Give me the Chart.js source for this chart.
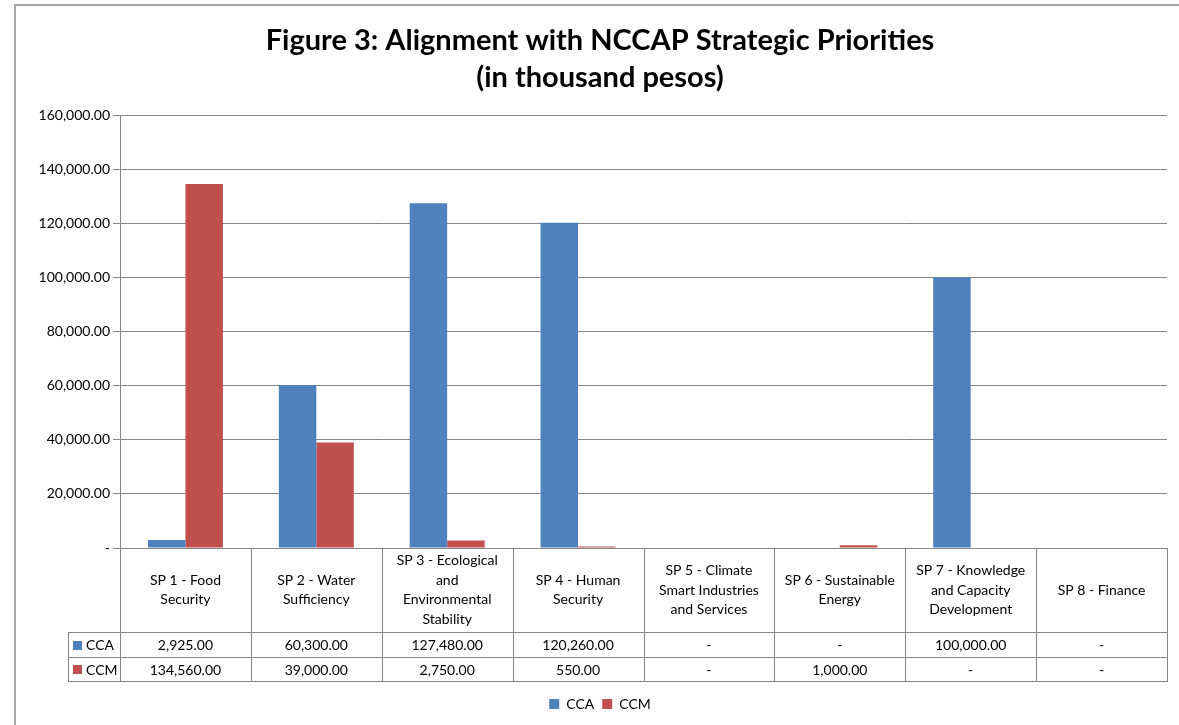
<!DOCTYPE html>
<html lang="en">
<head>
    <meta charset="UTF-8">
    <title>Figure 3: Alignment with NCCAP Strategic Priorities</title>
    <script src="https://cdn.jsdelivr.net/npm/chart.js"></script>
    <style>
        html, body {
            margin: 0;
            padding: 0;
            background: #ffffff;
            overflow: hidden;
        }
        #wrap {
            position: relative;
            width: 1200px;
            height: 725px;
        }
    </style>
</head>
<body>
    <div id="wrap">
        <canvas id="myChart"></canvas>
    </div>

    <script>
        // categories (header lines as they wrap in the data table)
        const categories = [
            ['SP 1 - Food', 'Security'],
            ['SP 2 - Water', 'Sufficiency'],
            ['SP 3 - Ecological', 'and', 'Environmental', 'Stability'],
            ['SP 4 - Human', 'Security'],
            ['SP 5 - Climate', 'Smart Industries', 'and Services'],
            ['SP 6 - Sustainable', 'Energy'],
            ['SP 7 - Knowledge', 'and Capacity', 'Development'],
            ['SP 8 - Finance']
        ];
        const ccaValues = [2925, 60300, 127480, 120260, 0, 0, 100000, 0];
        const ccmValues = [134560, 39000, 2750, 550, 0, 1000, 0, 0];
        const yTicks = [0, 20000, 40000, 60000, 80000, 100000, 120000, 140000, 160000];

        const FONT = 'Lato, Calibri, "Open Sans", sans-serif';
        const GRID = '#868686';

        function fmt(v) {
            if (!v) return '-';
            return v.toLocaleString('en-US', { minimumFractionDigits: 2, maximumFractionDigits: 2 });
        }

        // draws the data table under the plot plus the outer frame
        const tablePlugin = {
            id: 'dataTable',
            beforeDraw(chart) {
                const ctx = chart.ctx;
                ctx.save();
                ctx.strokeStyle = '#a6a6a6';
                ctx.lineWidth = 2;
                ctx.strokeRect(15, 5, 2000, 2000);
                ctx.restore();
            },
            afterDraw(chart) {
                const ctx = chart.ctx;
                const x = chart.scales.x;
                const area = chart.chartArea;
                const n = categories.length;
                const w = (x.right - x.left) / n;
                const top = area.bottom;
                const headBottom = top + 84;
                const row1 = headBottom + 25;
                const row2 = row1 + 24;
                const legLeft = 68;

                ctx.save();
                ctx.strokeStyle = GRID;
                ctx.lineWidth = 1;
                ctx.beginPath();
                // vertical lines
                for (let i = 0; i <= n; i++) {
                    const px = Math.round(x.left + i * w) + 0.5;
                    ctx.moveTo(px, top);
                    ctx.lineTo(px, row2);
                }
                ctx.moveTo(legLeft + 0.5, headBottom);
                ctx.lineTo(legLeft + 0.5, row2);
                // horizontal lines
                [headBottom, row1, row2].forEach(function (py) {
                    ctx.moveTo(legLeft, Math.round(py) + 0.5);
                    ctx.lineTo(x.right + 1, Math.round(py) + 0.5);
                });
                ctx.stroke();

                ctx.fillStyle = '#000';
                ctx.font = '14px ' + FONT;
                ctx.textAlign = 'center';
                ctx.textBaseline = 'middle';
                const lh = 19.5;
                categories.forEach(function (lines, i) {
                    const cx = x.left + (i + 0.5) * w;
                    const cy = (top + headBottom) / 2;
                    lines.forEach(function (t, k) {
                        ctx.fillText(t, cx, cy + (k - (lines.length - 1) / 2) * lh);
                    });
                    ctx.fillText(fmt(ccaValues[i]), cx, (headBottom + row1) / 2 + 1);
                    ctx.fillText(fmt(ccmValues[i]), cx, (row1 + row2) / 2 + 1);
                });

                // series keys in the table
                const series = chart.data.datasets;
                [(headBottom + row1) / 2, (row1 + row2) / 2].forEach(function (cy, k) {
                    ctx.fillStyle = series[k].backgroundColor;
                    ctx.fillRect(legLeft + 5, Math.round(cy) - 4, 9, 9);
                    ctx.fillStyle = '#000';
                    ctx.textAlign = 'left';
                    ctx.fillText(series[k].label, legLeft + 18, cy + 1);
                });
                ctx.restore();
            }
        };

        const ctx = document.getElementById('myChart').getContext('2d');
        window.myChart = new Chart(ctx, {
            type: 'bar',
            data: {
                labels: categories,
                datasets: [{
                    label: 'CCA',
                    data: ccaValues,
                    backgroundColor: '#4F81BD'
                }, {
                    label: 'CCM',
                    data: ccmValues,
                    backgroundColor: '#C0504D'
                }]
            },
            options: {
                responsive: true,
                maintainAspectRatio: false,
                animation: false,
                layout: {
                    padding: { left: 33, right: 33, top: 22, bottom: 4 }
                },
                datasets: {
                    bar: { categoryPercentage: 0.573, barPercentage: 1.0 }
                },
                plugins: {
                    title: {
                        display: true,
                        text: ['Figure 3: Alignment with NCCAP Strategic Priorities', '(in thousand pesos)'],
                        color: '#000',
                        font: { family: FONT, size: 29, weight: 'bold', lineHeight: 1.28 },
                        padding: { top: 0, bottom: 19 }
                    },
                    legend: {
                        position: 'bottom',
                        labels: {
                            color: '#000',
                            font: { family: FONT, size: 14 },
                            boxWidth: 10,
                            boxHeight: 10,
                            padding: 8
                        }
                    },
                    tooltip: { enabled: false }
                },
                scales: {
                    x: {
                        grid: { display: false },
                        border: { display: false },
                        ticks: { display: false },
                        afterFit: function (scale) { scale.height = 141; }
                    },
                    y: {
                        min: 0,
                        max: 160000,
                        afterBuildTicks: function (scale) {
                            scale.ticks = yTicks.map(function (v) { return { value: v }; });
                        },
                        afterFit: function (scale) { scale.width = 87; },
                        grid: { color: GRID, tickLength: 7 },
                        border: { color: GRID },
                        ticks: {
                            color: '#000',
                            font: { family: FONT, size: 14 },
                            padding: 3,
                            callback: function (v) { return fmt(v); }
                        }
                    }
                }
            },
            plugins: [tablePlugin]
        });
    </script>
</body>
</html>
